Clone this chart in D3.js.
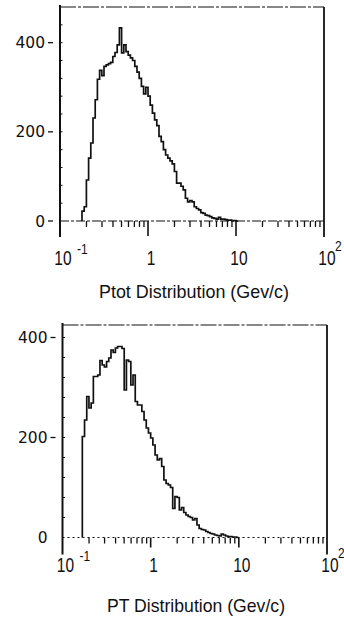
<!DOCTYPE html>
<html>
<head>
<meta charset="utf-8">
<script src="https://cdn.jsdelivr.net/npm/d3@7/dist/d3.min.js"></script>
<style>
html, body { margin: 0; padding: 0; background: #fff; }
svg { display: block; }
</style>
</head>
<body>
<svg id="chart" width="344" height="624"></svg>
<script>
// histogram bins are log10-spaced, 0.025 decade wide, counted from 10^-1
const binWidthLog = 0.025;

const ptotFirstBin = 10;
const ptotCounts = [22, 32, 92, 141, 175, 231, 272, 318, 338, 326, 347, 350, 353, 356, 369, 378, 395, 433,
    377, 395, 380, 372, 366, 360, 347, 334, 320, 302, 285, 300, 280, 260, 242, 227, 214, 190, 178, 160,
    148, 141, 135, 128, 111, 85, 85, 78, 70, 51, 43, 46, 43, 32, 28, 25, 19, 17, 13, 12, 10, 7, 6, 4,
    8, 4, 4, 3, 2, 2, 1, 1, 0];

const ptFirstBin = 9;
const ptCounts = [202, 235, 282, 259, 269, 322, 322, 325, 354, 345, 341, 352, 359, 375, 370, 379, 382, 382,
    378, 295, 355, 352, 305, 325, 272, 265, 265, 252, 235, 219, 209, 199, 185, 165, 155, 158, 142, 115,
    108, 105, 100, 58, 82, 80, 55, 60, 50, 45, 42, 40, 35, 38, 25, 18, 16, 15, 12, 10, 8, 7, 5, 4, 3,
    7, 5, 3, 2, 2, 1, 1, 0];

const xDomain = [0.1, 100];
const xLabelValues = [0.1, 1, 10, 100];
const xLabelBase = ['10', '1', '10', '10'];
const xLabelSup = ['-1', '', '', '2'];
const xMajorTicks = [1, 10];
const yLabelValues = [0, 200, 400];
const yMinorStep = 40;

function translate(x, y) {
    return `translate(${x},${y})`;
}

let svg = d3.select('#chart');
let ink = '#111';
let sans = '"Liberation Sans", Arial, sans-serif';

function drawPanel(p, counts, firstBin, title) {
    let x = d3.scaleLog().domain(xDomain).range([p.left, p.right]);
    let y = d3.scaleLinear().domain([0, p.ymax]).range([p.base, p.top]);
    let g = svg.append('g');

    // frame: solid sides, dashed top and zero line
    g.append('line')
        .attr('x1', p.left).attr('x2', p.left)
        .attr('y1', p.top - 2).attr('y2', p.base + p.sideExt)
        .attr('stroke', ink).attr('stroke-width', 2);
    g.append('line')
        .attr('x1', p.right).attr('x2', p.right)
        .attr('y1', p.top).attr('y2', p.base + p.sideExt)
        .attr('stroke', ink).attr('stroke-width', 1.8);
    g.append('line')
        .attr('x1', p.left).attr('x2', p.right)
        .attr('y1', p.top).attr('y2', p.top)
        .attr('stroke', ink).attr('stroke-width', 1.2)
        .attr('stroke-dasharray', '16,2,3,2');
    g.append('line')
        .attr('x1', p.left).attr('x2', p.right)
        .attr('y1', p.base).attr('y2', p.base)
        .attr('stroke', ink).attr('stroke-width', 1.2)
        .attr('stroke-dasharray', p.baseDash);

    // x ticks
    let minor = [];
    [0.1, 1, 10].forEach(d => d3.range(2, 10).forEach(k => minor.push(d * k)));
    g.selectAll('line.xminor')
        .data(minor)
        .enter()
        .append('line')
        .attr('class', 'xminor')
        .attr('x1', d => x(d)).attr('x2', d => x(d))
        .attr('y1', p.base).attr('y2', p.base + 6)
        .attr('stroke', ink).attr('stroke-width', 1.3);
    g.selectAll('line.xmajor')
        .data(xMajorTicks)
        .enter()
        .append('line')
        .attr('class', 'xmajor')
        .attr('x1', d => x(d)).attr('x2', d => x(d))
        .attr('y1', p.base).attr('y2', p.base + p.majorLen)
        .attr('stroke', ink).attr('stroke-width', 1.6);

    // x labels with exponents, squeezed to the narrow face of the original
    let xl = g.selectAll('g.xlab')
        .data(xLabelValues)
        .enter()
        .append('g')
        .attr('class', 'xlab')
        .attr('transform', d => translate(x(d), p.base + p.labelDy));
    xl.append('text')
        .attr('transform', 'translate(3,0) scale(0.74,1)')
        .attr('text-anchor', 'middle')
        .attr('font-family', sans)
        .attr('font-size', 21)
        .attr('fill', ink)
        .text((d, i) => xLabelBase[i]);
    xl.append('text')
        .attr('transform', (d, i) => i === 0 ? 'translate(17,-11) scale(0.8,1)' : 'translate(11,-14) scale(0.8,1)')
        .attr('font-family', sans)
        .attr('font-size', 15)
        .attr('fill', ink)
        .text((d, i) => xLabelSup[i]);

    // y ticks
    let yMinor = d3.range(yMinorStep, p.ymax, yMinorStep);
    g.selectAll('line.yminor')
        .data(yMinor)
        .enter()
        .append('line')
        .attr('class', 'yminor')
        .attr('x1', p.left).attr('x2', p.left + 2.5)
        .attr('y1', d => y(d)).attr('y2', d => y(d))
        .attr('stroke', ink).attr('stroke-width', 1);
    g.selectAll('line.ymajor')
        .data(yLabelValues.filter(d => d > 0 || p.zeroDash))
        .enter()
        .append('line')
        .attr('class', 'ymajor')
        .attr('x1', p.left - 12).attr('x2', p.left - 7)
        .attr('y1', d => y(d)).attr('y2', d => y(d))
        .attr('stroke', ink).attr('stroke-width', 1.3);
    g.selectAll('text.ylab')
        .data(yLabelValues)
        .enter()
        .append('text')
        .attr('class', 'ylab')
        .attr('x', p.left - 15)
        .attr('y', d => y(d))
        .attr('dy', '0.36em')
        .attr('text-anchor', 'end')
        .attr('font-family', '"DejaVu Sans", sans-serif')
        .attr('font-size', 15.5)
        .attr('fill', ink)
        .text(d => d);

    // histogram outline
    let pts = [[x(Math.pow(10, -1 + firstBin * binWidthLog)), y(0)]];
    counts.forEach((c, i) => {
        let lo = Math.pow(10, -1 + (firstBin + i) * binWidthLog);
        let hi = Math.pow(10, -1 + (firstBin + i + 1) * binWidthLog);
        pts.push([x(lo), y(c)]);
        pts.push([x(hi), y(c)]);
    });
    g.append('path')
        .attr('d', d3.line()(pts))
        .attr('fill', 'none')
        .attr('stroke', ink)
        .attr('stroke-width', 1.7)
        .attr('stroke-linejoin', 'miter');

    g.append('text')
        .attr('x', p.titleX - p.titleW / 2)
        .attr('y', p.titleY)
        .attr('textLength', p.titleW)
        .attr('lengthAdjust', 'spacingAndGlyphs')
        .attr('font-family', sans)
        .attr('font-size', 19)
        .attr('fill', ink)
        .text(title);
}

drawPanel({left: 60, right: 324, top: 7, base: 221, ymax: 480, sideExt: 16, majorLen: 15,
           labelDy: 44, baseDash: '9,2,3,2', zeroDash: true, titleX: 194, titleY: 298, titleW: 190},
          ptotCounts, ptotFirstBin, 'Ptot Distribution (Gev/c)');

drawPanel({left: 62.5, right: 327, top: 325, base: 537.5, ymax: 425, sideExt: 17, majorLen: 10,
           labelDy: 34.5, baseDash: '2,3', zeroDash: false, titleX: 196, titleY: 612, titleW: 178},
          ptCounts, ptFirstBin, 'PT Distribution (Gev/c)');
</script>
</body>
</html>
